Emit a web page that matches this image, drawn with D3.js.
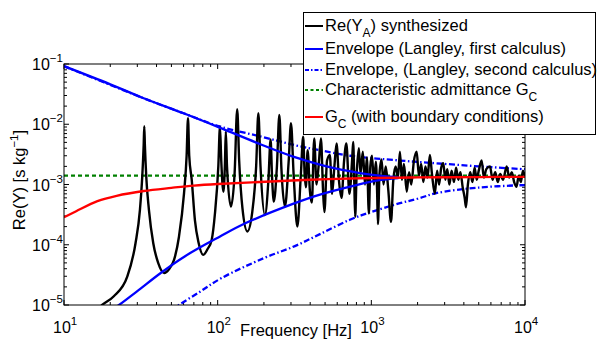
<!DOCTYPE html>
<html><head><meta charset="utf-8">
<script src="https://cdn.jsdelivr.net/npm/d3@7"></script>
<style>body{margin:0;background:#fff}svg{display:block}text{font-family:"Liberation Sans",Arial,sans-serif;fill:#000}</style>
</head><body><svg id="c" width="597" height="342"></svg>
<script>
// ---------- data ----------
const xTicks = [10, 100, 1000, 10000];
const xTickExp = ["1", "2", "3", "4"];
const yTicks = [1e-5, 1e-4, 1e-3, 1e-2, 1e-1];
const yTickExp = ["\u22125", "\u22124", "\u22123", "\u22122", "\u22121"];

// Re(Y_A) synthesized [freq Hz, Re(Y)]
const synthesized = [
 [14,5e-6],[17.7,1e-5],[21.1,1.4e-5],[25.8,2.95e-5],[29.2,1.06e-4],[31.2,3.8e-4],[32.3,1.35e-3],[33.0,4.5e-3],[33.3,9.3e-3],[33.6,4.5e-3],[34.3,1.35e-3],[35.7,3.8e-4],[38.1,1.06e-4],[41,5e-5],[44.8,3.4e-5],[48.5,4e-5],
 [52,5.6e-5],[56,1.36e-4],[60.4,7.1e-4],[62.8,3e-3],[64.1,1.26e-2],[65.3,3e-3],[67.8,1.19e-3],[71.1,2.57e-4],[75,1.1e-4],[80.5,6.8e-5],[86,8.5e-5],
 [91.4,1.2e-4],[96,3.3e-4],[101,2e-3],[103.5,9.1e-3],[105.5,2.5e-3],[109,7.6e-4],[111.5,2.2e-3],[113,7.6e-3],[115,2e-3],[122,4.3e-4],[129,1.6e-3],
 [134,1.77e-2],[138,2.5e-3],[145,4e-4],[156,1.66e-4],[168,3.5e-4],[178,2e-3],[184,1.52e-2],[190,2e-3],[203,3.1e-4],[214,1.2e-3],[221,5.6e-3],
 [226,1.3e-3],[232,5.2e-4],[243,2e-3],[252,1.43e-2],[260,1.8e-3],[274,4.3e-4],[290,2.5e-3],[300,1.04e-2],[312,1.5e-3],[330,2.0e-4],[348,1.5e-3],
 [360,6.2e-3],[368,1.5e-3],[375,9e-4],[385,3.7e-3],[398,8e-4],[410,5e-4],[425,5.8e-3],[440,1.0e-3],[455,2.2e-3],[470,5.8e-3],[485,8e-4],[495,3.5e-4],
 [515,2.5e-3],[537,3.1e-3],[555,7e-4],[575,2e-3],[594,4.8e-3],[615,1.2e-3],[640,6e-4],[665,2.5e-3],[688,4.8e-3],[720,7e-4],[750,2.6e-3],[762,5.1e-3],
 [775,1.0e-3],[785,2.9e-4],[800,1.2e-3],[830,4.0e-3],[850,1.5e-3],[880,3.5e-3],[910,1.0e-3],[935,2.8e-3],[964,3.3e-4],[985,2.0e-3],[1010,3.0e-3],
 [1040,1.0e-3],[1070,2.4e-3],[1090,8e-4],[1104,2.2e-4],[1130,1.5e-3],[1165,2.6e-3],[1200,1.0e-3],[1240,2.0e-3],[1290,8e-4],[1343,2.4e-4],[1390,1.2e-3],
 [1440,2.0e-3],[1490,1.3e-3],[1535,3.5e-3],[1580,1.2e-3],[1630,2.2e-3],[1700,7.6e-4],[1760,1.6e-3],[1820,1.0e-3],[1890,2.4e-3],[1972,3.5e-3],
 [2040,1.4e-3],[2110,2.2e-3],[2180,1.1e-3],[2250,2.0e-3],[2320,1.3e-3],[2405,3.1e-3],[2480,1.5e-3],[2590,7e-4],[2680,1.7e-3],[2760,1.0e-3],
 [2850,1.9e-3],[2940,2.25e-3],[3030,1.2e-3],[3120,1.8e-3],[3220,1.0e-3],[3330,1.7e-3],[3450,1.1e-3],[3560,1.9e-3],[3680,1.2e-3],[3800,1.6e-3],
 [3930,9e-4],[4050,6e-4],[4130,4.2e-4],[4250,1.0e-3],[4400,1.6e-3],[4550,1.1e-3],[4700,1.9e-3],[4850,1.2e-3],[5000,1.7e-3],[5220,2.5e-3],
 [5400,1.3e-3],[5600,1.8e-3],[5920,2.0e-3],[6150,1.2e-3],[6400,1.6e-3],[6650,1.1e-3],[6900,1.5e-3],[7200,1.2e-3],[7600,2.0e-3],[7900,1.3e-3],
 [8200,1.6e-3],[8500,1.1e-3],[8810,9.2e-4],[9100,1.4e-3],[9400,1.1e-3],[9700,1.7e-3],[10000,1.3e-3]
];
// Envelope (Langley, first calculus): upper and lower
const envFirstUpper = [[10,0.092],[20,0.046],[33,0.027],[60,0.0152],[103,0.0088],[188,0.0047],[310,0.0029],[511,0.0020],[843,0.00155],[1200,0.00138],[1500,0.00132]];
const envFirstLower = [[20,8e-6],[22.8,1e-5],[30,1.7e-5],[42.6,3.4e-5],[61,6.4e-5],[103,1.36e-4],[150,2.25e-4],[318,4.9e-4],[463,6.8e-4],[762,9.5e-4],[1100,1.17e-3],[1500,1.28e-3]];
// Envelope (Langley, second calculus): upper and lower
const envSecondUpper = [[10,0.092],[33,0.027],[60,0.0152],[103,0.0092],[194,0.0062],[318,0.0045],[463,0.0037],[725,0.0030],[1535,0.0025],[2650,0.00225],[5000,0.0020],[10000,0.00179]];
const envSecondLower = [[50,8e-6],[56,1e-5],[75,1.6e-5],[106,2.8e-5],[200,6e-5],[318,9.5e-5],[463,1.5e-4],[725,2.6e-4],[1000,3.5e-4],[1535,4.9e-4],[2000,5.8e-4],[2650,7.2e-4],[5000,8.9e-4],[10000,9.8e-4]];
// Characteristic admittance G_C
const charAdmittance = [[10,1.4e-3],[10000,1.4e-3]];
// G_C with boundary conditions
const gcBoundary = [[10,2.85e-4],[12,3.6e-4],[16.5,5.3e-4],[22,6.5e-4],[33,7.8e-4],[50,8.8e-4],[70,9.6e-4],[100,1.02e-3],[188,1.1e-3],[400,1.2e-3],[843,1.27e-3],[2000,1.31e-3],[5000,1.33e-3],[10000,1.34e-3]];

// ---------- drawing ----------
const svg = d3.select("#c");
const L = 64, R = 525, T = 64, B = 305;
const x = d3.scaleLog().domain([10, 1e4]).range([L, R]);
const y = d3.scaleLog().domain([1e-5, 1e-1]).range([B, T]);

svg.append("clipPath").attr("id", "clip").append("rect").attr("x", L).attr("y", T).attr("width", R - L).attr("height", B - T);

const minorX = [], minorY = [];
for (let d = 1; d < 4; d++) for (let k = 2; k < 10; k++) minorX.push(k * Math.pow(10, d));
for (let d = -5; d < -1; d++) for (let k = 2; k < 10; k++) minorY.push(k * Math.pow(10, d));

const ax = svg.append("g").attr("stroke", "#000").attr("stroke-width", 1);
function vt(v, len, yy, dir) { ax.append("line").attr("x1", x(v)).attr("x2", x(v)).attr("y1", yy).attr("y2", yy + dir * len); }
function ht(v, len, xx, dir) { ax.append("line").attr("y1", y(v)).attr("y2", y(v)).attr("x1", xx).attr("x2", xx + dir * len); }
xTicks.forEach(v => { vt(v, 5, B, -1); vt(v, 5, T, 1); });
minorX.forEach(v => { vt(v, 3, B, -1); vt(v, 3, T, 1); });
yTicks.forEach(v => { ht(v, 5, L, 1); ht(v, 5, R, -1); });
minorY.forEach(v => { ht(v, 3, L, 1); ht(v, 3, R, -1); });

xTicks.forEach((v, i) => {
  const t = svg.append("text").attr("x", x(v) - 11).attr("y", 333).attr("font-size", 16);
  t.append("tspan").text("10");
  t.append("tspan").attr("font-size", 11.5).attr("dy", -8).text(xTickExp[i]);
});
yTicks.forEach((v, i) => {
  const t = svg.append("text").attr("x", 32).attr("y", y(v) + 6).attr("font-size", 16);
  t.append("tspan").text("10");
  t.append("tspan").attr("font-size", 11.5).attr("dy", -8).text(yTickExp[i]);
});

svg.append("text").attr("x", 296).attr("y", 336).attr("text-anchor", "middle").attr("font-size", 16.5).text("Frequency [Hz]");
const yl = svg.append("text").attr("transform", "translate(25,180) rotate(-90)").attr("text-anchor", "middle").attr("font-size", 16.5);
yl.append("tspan").text("Re(Y) [s kg");
yl.append("tspan").attr("font-size", 11.5).attr("dy", -7).text("\u22121");
yl.append("tspan").attr("dy", 7).text("]");

const line = d3.line().x(d => x(d[0])).y(d => y(d[1])).curve(d3.curveMonotoneX);
const smooth = d3.line().x(d => x(d[0])).y(d => y(d[1])).curve(d3.curveCatmullRom.alpha(0.5));
const g = svg.append("g").attr("clip-path", "url(#clip)").attr("fill", "none");
const dashDot = "6,2.5,1.5,2.5";
g.append("path").datum(envSecondUpper).attr("d", smooth).attr("stroke", "#0000ff").attr("stroke-width", 2.3).attr("stroke-dasharray", dashDot);
g.append("path").datum(envSecondLower).attr("d", smooth).attr("stroke", "#0000ff").attr("stroke-width", 2.3).attr("stroke-dasharray", dashDot);
g.append("path").datum(charAdmittance).attr("d", line).attr("stroke", "#008000").attr("stroke-width", 2.3).attr("stroke-dasharray", "4,3");
g.append("path").datum(synthesized).attr("d", line).attr("stroke", "#000").attr("stroke-width", 2.4).attr("stroke-linejoin", "round");
g.append("path").datum(envFirstUpper).attr("d", smooth).attr("stroke", "#0000ff").attr("stroke-width", 2.3);
g.append("path").datum(envFirstLower).attr("d", smooth).attr("stroke", "#0000ff").attr("stroke-width", 2.3);
g.append("path").datum(gcBoundary).attr("d", smooth).attr("stroke", "#ff0000").attr("stroke-width", 2.3);

svg.append("rect").attr("x", L).attr("y", T).attr("width", R - L).attr("height", B - T).attr("fill", "none").attr("stroke", "#000").attr("stroke-width", 1);

const lg = svg.append("g");
lg.append("rect").attr("x", 303.5).attr("y", 12.5).attr("width", 292).attr("height", 122).attr("fill", "#fff").attr("stroke", "#000").attr("stroke-width", 1);
const entries = [
  {c: "#000", dash: null, y: 26, parts: [["Re(Y", 0], ["A", 1], [")", 2], [" synthesized", 0]]},
  {c: "#0000ff", dash: null, y: 49, parts: [["Envelope (Langley, first calculus)", 0]]},
  {c: "#0000ff", dash: "4,2,1.5,2", y: 70, parts: [["Envelope, (Langley, second calculus)", 0]]},
  {c: "#008000", dash: "3,2.5", y: 90, parts: [["Characteristic admittance G", 0], ["C", 1]]},
  {c: "#ff0000", dash: null, y: 117, parts: [["G", 0], ["C", 1], [" (with boundary conditions)", 2]]}
];
entries.forEach(e => {
  lg.append("line").attr("x1", 305).attr("x2", 323).attr("y1", e.y).attr("y2", e.y).attr("stroke", e.c).attr("stroke-width", 2).attr("stroke-dasharray", e.dash);
  const t = lg.append("text").attr("x", 325).attr("y", e.y + 5).attr("font-size", 16.5);
  e.parts.forEach(p => {
    const s = t.append("tspan").text(p[0]);
    if (p[1] === 1) s.attr("font-size", 12).attr("dy", 6);
    if (p[1] === 2) s.attr("dy", -6);
  });
});
</script></body></html>
